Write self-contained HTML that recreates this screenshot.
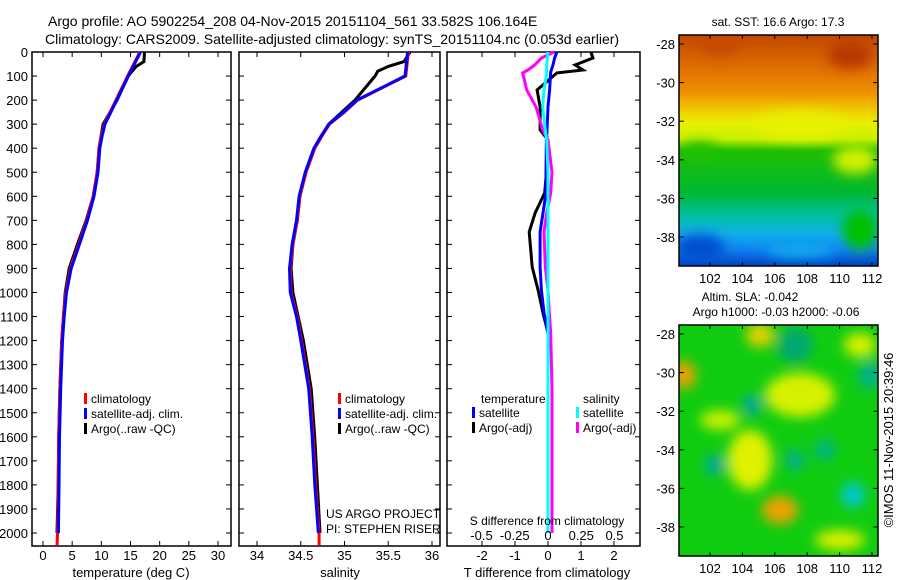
<!DOCTYPE html>
<html><head><meta charset="utf-8"><style>
html,body{margin:0;padding:0;background:#fff;}
svg{display:block;font-family:"Liberation Sans",sans-serif;}
</style></head><body>
<svg id="c" width="900" height="580" viewBox="0 0 900 580" xmlns="http://www.w3.org/2000/svg">
<defs>
<linearGradient id="sstg" x1="0" y1="0" x2="0" y2="1">
<stop offset="0" stop-color="#c04800"/><stop offset="0.15" stop-color="#e07000"/><stop offset="0.25" stop-color="#f09000"/><stop offset="0.31" stop-color="#f0c000"/><stop offset="0.38" stop-color="#e8f000"/><stop offset="0.45" stop-color="#c8f000"/><stop offset="0.5" stop-color="#20c000"/><stop offset="0.68" stop-color="#00b830"/><stop offset="0.78" stop-color="#00c0a0"/><stop offset="0.86" stop-color="#10b0e8"/><stop offset="0.93" stop-color="#1080f0"/><stop offset="1" stop-color="#0040c0"/>
</linearGradient>
<filter id="bl" x="-50%" y="-50%" width="200%" height="200%"><feGaussianBlur stdDeviation="6"/></filter>
<clipPath id="m1c"><rect x="679" y="35" width="199" height="231"/></clipPath>
<clipPath id="m2c"><rect x="679" y="325" width="199" height="231"/></clipPath>
</defs>
<text x="48" y="26" font-size="14">Argo profile: AO 5902254_208 04-Nov-2015 20151104_561 33.582S 106.164E</text>
<text x="45" y="44" font-size="14">Climatology: CARS2009. Satellite-adjusted climatology: synTS_20151104.nc (0.053d earlier)</text>
<g id="g1"></g>
<g id="g2"></g>
<g id="g3"></g>
<g id="maps">
<g clip-path="url(#m1c)">
<rect x="679" y="35" width="199" height="231" fill="url(#sstg)"/>
<g filter="url(#bl)">
<ellipse cx="720" cy="45" rx="20" ry="10" fill="#c84800"/>
<ellipse cx="850" cy="55" rx="22" ry="14" fill="#b83800"/>
<ellipse cx="800" cy="125" rx="45" ry="14" fill="#e8f000"/>
<ellipse cx="855" cy="160" rx="22" ry="14" fill="#d0f000"/>
<ellipse cx="700" cy="150" rx="18" ry="8" fill="#20c000"/>
<ellipse cx="700" cy="248" rx="25" ry="14" fill="#0050d0"/>
<ellipse cx="800" cy="250" rx="35" ry="8" fill="#10a8f0"/>
<ellipse cx="860" cy="230" rx="18" ry="20" fill="#00c000"/>
</g>
</g>
<g clip-path="url(#m2c)">
<rect x="679" y="325" width="199" height="231" fill="#10cc10"/>
<g filter="url(#bl)">
<ellipse cx="684" cy="375" rx="12" ry="14" fill="#f0a000"/>
<ellipse cx="760" cy="335" rx="14" ry="12" fill="#e8d000"/>
<ellipse cx="800" cy="395" rx="35" ry="22" fill="#d8f000"/>
<ellipse cx="750" cy="460" rx="22" ry="30" fill="#e0f000"/>
<ellipse cx="780" cy="510" rx="18" ry="14" fill="#f0a000"/>
<ellipse cx="860" cy="345" rx="16" ry="12" fill="#d8f000"/>
<ellipse cx="720" cy="420" rx="20" ry="10" fill="#c8f000"/>
<ellipse cx="840" cy="540" rx="25" ry="10" fill="#d8f000"/>
<ellipse cx="795" cy="345" rx="18" ry="18" fill="#00a870"/>
<ellipse cx="752" cy="405" rx="10" ry="10" fill="#00a8a0"/>
<ellipse cx="715" cy="465" rx="10" ry="10" fill="#00a8a0"/>
<ellipse cx="795" cy="460" rx="10" ry="10" fill="#00b090"/>
<ellipse cx="853" cy="495" rx="12" ry="12" fill="#00c8d8"/>
<ellipse cx="870" cy="375" rx="12" ry="14" fill="#00b090"/>
<ellipse cx="825" cy="450" rx="10" ry="10" fill="#00b090"/>
</g>
</g>
</g>
<text transform="translate(893,440) rotate(-90)" font-size="13" text-anchor="middle">©IMOS 11-Nov-2015 20:39:46</text>
</svg>
<script>
// ---- data ----
const climDepth=[0,100,200,250,300,350,400,500,600,700,800,900,1000,1100,1200,1400,1600,1800,2000,2050];
const climTemp=[16.6,14.5,12.5,11.5,10.5,10,9.6,9.3,8.6,7.5,6.1,4.7,3.9,3.5,3.2,2.9,2.7,2.6,2.5,2.4];
const argoDepth=[0,40,60,80,100,200,300,400,500,600,700,800,900,1000,1200,1400,1600,1800,2000];
const argoTemp=[17.4,17.3,16.0,15.3,14.6,12.7,10.3,9.6,9.3,8.6,7.4,5.9,4.5,3.8,3.2,2.9,2.7,2.6,2.4];
const climSal=[35.73,35.7,35.15,35.0,34.83,34.74,34.66,34.56,34.49,34.46,34.41,34.38,34.39,34.46,34.51,34.6,34.64,34.67,34.71,34.71];
const argoSal=[35.75,35.68,35.5,35.38,35.35,35.12,34.82,34.66,34.56,34.49,34.46,34.41,34.39,34.41,34.53,34.62,34.66,34.69,34.72];
const diffDepth=[0,25,54,75,87,158,228,324,366,500,586,670,748,894,990,1085,1168,1400,1700,2000];
const tArgoDiff=[1.3,1.36,0.82,1.06,0.27,-0.33,-0.24,-0.24,0,-0.05,-0.1,-0.39,-0.57,-0.48,-0.3,-0.15,0,0,0,0];
const tSatDiff=[0.27,0.2,0.15,0.1,0.08,0.05,0,-0.03,-0.05,-0.06,-0.06,-0.15,-0.24,-0.24,-0.2,-0.12,0,0,0,0];
const sArgoDiff=[0.045,-0.05,-0.1,-0.15,-0.19,-0.16,-0.09,-0.04,0,0.03,0.02,-0.01,-0.03,-0.02,0,0.01,0.02,0.03,0.03,0.03];
const sSatDiff=[0,-0.005,-0.01,-0.01,-0.01,-0.03,-0.04,-0.02,-0.01,0,0,0,0,0,0,0,0,0,0,0];
const depthTicks=[0,100,200,300,400,500,600,700,800,900,1000,1100,1200,1300,1400,1500,1600,1700,1800,1900,2000];
const tempTicks=[0,5,10,15,20,25,30];
const salTicks=[34,34.5,35,35.5,36];
const tdTicks=[-2,-1,0,1,2];
const sdTicks=[-0.5,-0.25,0,0.25,0.5];
const latTicks=[-28,-30,-32,-34,-36,-38];
const lonTicks=[102,104,106,108,110,112];
// ---- scales ----
const NS='http://www.w3.org/2000/svg';
const yD=d=>52+d*0.2405;
const xT=t=>43+t*5.833;
const xS=s=>257+(s-34)*87.5;
const xTD=t=>548+t*33;
const xSD=s=>548+s*133;
function mk(p,tag,at,txt){const e=document.createElementNS(NS,tag);for(const k in at)e.setAttribute(k,at[k]);if(txt!==undefined)e.textContent=txt;p.appendChild(e);return e;}
function frame(g,x0,x1,y0,y1){
  const r=mk(g,'rect',{x:x0,y:y0,width:x1-x0,height:y1-y0,fill:'none',stroke:'#000','stroke-width':1.5});
  
  
}
function line(g,xs,ys,col,w,name,dash){
  const pts=xs.map((x,i)=>x.toFixed(1)+','+ys[i].toFixed(1)).join(' ');
  const p=mk(g,'polyline',{points:pts,fill:'none',stroke:col,'stroke-width':w,'stroke-linejoin':'miter'});
  if(dash)p.setAttribute('stroke-dasharray',dash);
  
  
}
function xticks(g,ticks,fx,y0,y1,ly,name){
  ticks.forEach(t=>{const x=fx(t);
    mk(g,'line',{x1:x,x2:x,y1:y1,y2:y1-5,stroke:'#000'});
    mk(g,'line',{x1:x,x2:x,y1:y0,y2:y0+5,stroke:'#000'});
    if(ly){const tx=mk(g,'text',{x:x,y:ly,'font-size':13,'text-anchor':'middle'},String(t));
      
      }
  });
}
function yticks(g,x0,x1,labels){
  depthTicks.forEach(d=>{const y=yD(d);
    mk(g,'line',{x1:x0,x2:x0+5,y1:y,y2:y,stroke:'#000'});
    mk(g,'line',{x1:x1,x2:x1-5,y1:y,y2:y,stroke:'#000'});
    if(labels){const tx=mk(g,'text',{x:x0-4,y:y+5,'font-size':13,'text-anchor':'end'},String(d));
      
      }
  });
}
function legend(g,x,y,items){
  items.forEach((it,i)=>{
    mk(g,'rect',{x:x,y:y+i*15-10,width:3,height:11,fill:it[1]});
    const t=mk(g,'text',{x:x+7,y:y+i*15,'font-size':12},it[0]);
    
    
  });
}
// panel 1
const g1=document.getElementById('g1');
frame(g1,32,231,52,546);
xticks(g1,tempTicks,xT,52,546,560,'temperature-tick-label');
yticks(g1,32,231,true);
line(g1,argoTemp.map(xT),argoDepth.map(yD),'#000',3,'argo-temperature-line');
line(g1,climTemp.map(xT),climDepth.map(yD),'#f00',3,'climatology-temperature-line');
line(g1,climTemp.slice(0,19).map(t=>xT(t)+0.8),climDepth.slice(0,19).map(yD),'#00f',3,'satellite-temperature-line');
let t=mk(g1,'text',{x:131,y:577,'font-size':13,'text-anchor':'middle'},'temperature (deg C)');

legend(g1,84,403,[['climatology','#f00'],['satellite-adj. clim.','#00f'],['Argo(..raw -QC)','#000']]);
// panel 2
const g2=document.getElementById('g2');
frame(g2,239,440,52,546);
xticks(g2,salTicks,xS,52,546,560,'salinity-tick-label');
yticks(g2,239,440,false);
line(g2,argoSal.map(xS),argoDepth.map(yD),'#000',3,'argo-salinity-line');
line(g2,climSal.map(xS),climDepth.map(yD),'#f00',3,'climatology-salinity-line');
line(g2,climSal.slice(0,19).map(s=>xS(s)-0.8),climDepth.slice(0,19).map(yD),'#00f',3,'satellite-salinity-line');
t=mk(g2,'text',{x:340,y:577,'font-size':13,'text-anchor':'middle'},'salinity');

legend(g2,338,403,[['climatology','#f00'],['satellite-adj. clim.','#00f'],['Argo(..raw -QC)','#000']]);
t=mk(g2,'text',{x:326,y:518,'font-size':12},'US ARGO PROJECT');
t=mk(g2,'text',{x:326,y:533,'font-size':12},'PI: STEPHEN RISER');
// panel 3
const g3=document.getElementById('g3');
frame(g3,447,640,52,546);
xticks(g3,tdTicks,xTD,52,546,560,'t-diff-tick-label');
yticks(g3,447,640,false);
line(g3,[548,548],[yD(200),yD(360)],'#000',1,'zero-reference-line','1,3');
line(g3,tArgoDiff.map(xTD),diffDepth.map(yD),'#000',3,'argo-t-diff-line');
line(g3,sArgoDiff.map(xSD),diffDepth.map(yD),'#f0f',3,'argo-s-diff-line');
line(g3,tSatDiff.map(xTD),diffDepth.map(yD),'#00f',3,'satellite-t-diff-line');
line(g3,sSatDiff.map(xSD),diffDepth.map(yD),'#0ff',3,'satellite-s-diff-line');
sdTicks.forEach(s=>{const tx=mk(g3,'text',{x:xSD(s),y:540,'font-size':13,'text-anchor':'middle'},String(s));
  });
t=mk(g3,'text',{x:547,y:525,'font-size':12,'text-anchor':'middle'},'S difference from climatology');
t=mk(g3,'text',{x:547,y:577,'font-size':13,'text-anchor':'middle'},'T difference from climatology');
t=mk(g3,'text',{x:481,y:403,'font-size':12},'temperature');
t=mk(g3,'text',{x:583,y:403,'font-size':12},'salinity');
legend(g3,472,417,[['satellite','#00f'],['Argo(-adj)','#000']]);
legend(g3,576,417,[['satellite','#0ff'],['Argo(-adj)','#f0f']]);
// maps axes
const gm=document.getElementById('maps');
function mapAxes(y0,y1,latY0){
  frame(gm,679,878,y0,y1);
  const ly=lat=>latY0+(-28-lat)*19.3;
  latTicks.forEach(l=>{const y=ly(l);mk(gm,'line',{x1:679,x2:684,y1:y,y2:y,stroke:'#000'});mk(gm,'line',{x1:878,x2:873,y1:y,y2:y,stroke:'#000'});
    const tx=mk(gm,'text',{x:675,y:y+5,'font-size':13,'text-anchor':'end'},String(l));
    });
  const lx=lon=>710+(lon-102)*16.2;
  lonTicks.forEach(l=>{const x=lx(l);mk(gm,'line',{x1:x,x2:x,y1:y0,y2:y0+4,stroke:'#000'});mk(gm,'line',{x1:x,x2:x,y1:y1,y2:y1-4,stroke:'#000'});
    const tx=mk(gm,'text',{x:x,y:y1+17,'font-size':13,'text-anchor':'middle'},String(l));
    });
}
mapAxes(35,266,44);
mapAxes(325,556,334);
t=mk(gm,'text',{x:778,y:26,'font-size':12,'text-anchor':'middle'},'sat. SST: 16.6 Argo: 17.3');
t=mk(gm,'text',{x:750,y:301,'font-size':12,'text-anchor':'middle'},'Altim. SLA: -0.042');
t=mk(gm,'text',{x:776,y:316,'font-size':12,'text-anchor':'middle'},'Argo h1000: -0.03 h2000: -0.06');
</script>
</body></html>
